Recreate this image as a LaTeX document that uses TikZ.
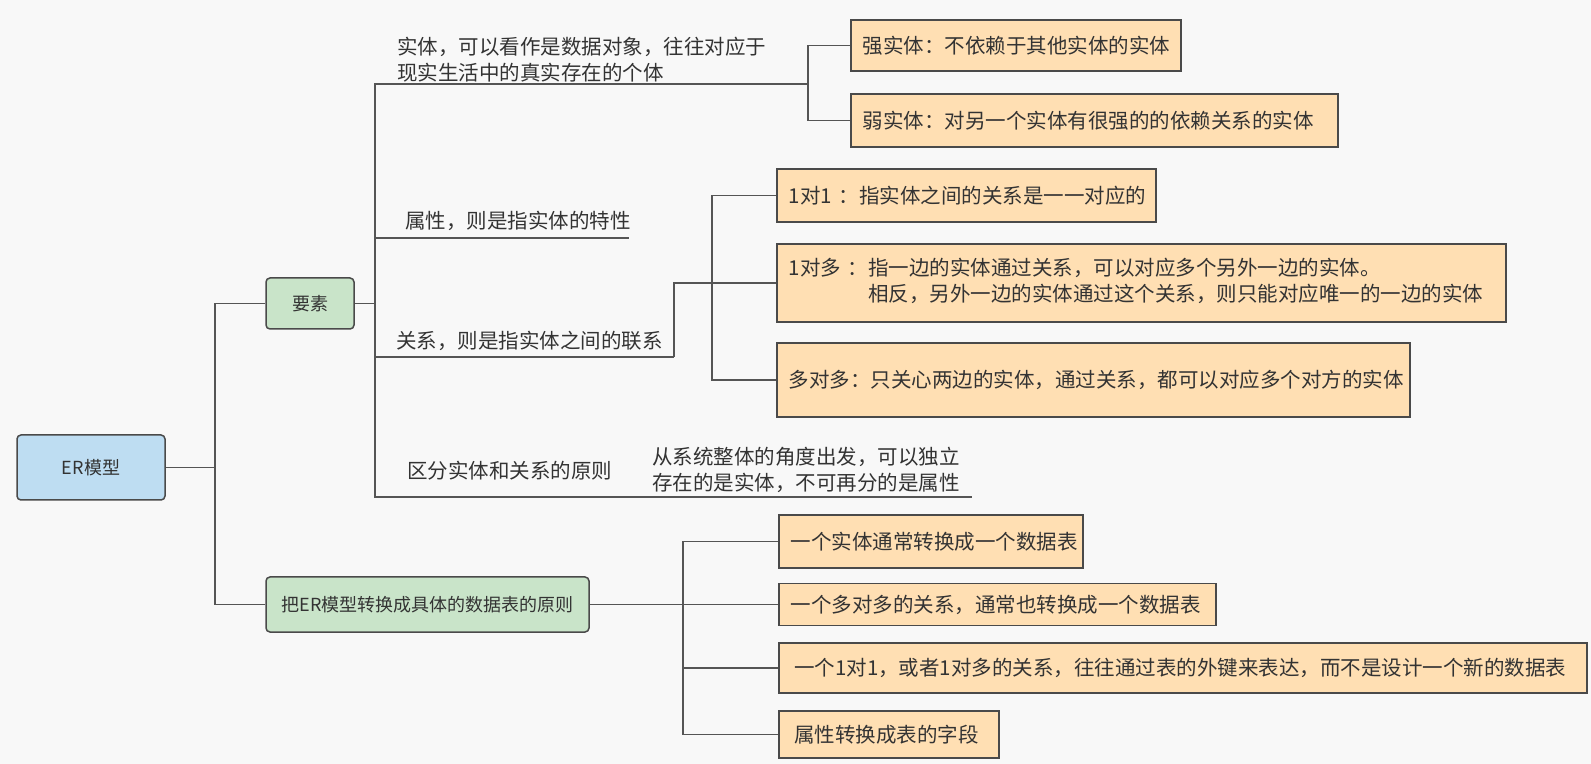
\documentclass[tikz,border=0pt]{standalone}
\usepackage{fontspec}
\setmainfont{Noto Sans CJK SC}
\usetikzlibrary{positioning}
\usepackage{xcolor}
\definecolor{MapBack}{HTML}{F8F8F8}
\definecolor{MapInk}{HTML}{333333}
\definecolor{MapLine}{HTML}{555555}
\definecolor{MapEdge}{HTML}{4A4A4A}
\definecolor{MapRoot}{HTML}{BEDDF2}
\definecolor{MapTopic}{HTML}{C9E4C9}
\definecolor{MapLeaf}{HTML}{FFDFB3}
\newcommand{\leaffont}{\fontsize{10.25pt}{13pt}\selectfont}
\newcommand{\topicfont}{\fontsize{9pt}{11pt}\selectfont}
\tikzset{
    % Box styles
    root/.style={
        rectangle,
        rounded corners=2pt,
        draw=MapEdge,
        fill=MapRoot,
        line width=0.75pt,
        minimum width=74pt,
        minimum height=32.5pt,
        align=center,
        text=MapInk,
        font=\topicfont
    },
    topic/.style={
        rectangle,
        rounded corners=2pt,
        draw=MapEdge,
        fill=MapTopic,
        line width=0.75pt,
        align=center,
        text=MapInk,
        font=\topicfont
    },
    leaf/.style={
        rectangle,
        draw=MapEdge,
        fill=MapLeaf,
        line width=0.75pt,
        anchor=west,
        inner xsep=6pt,
        align=left,
        text=MapInk,
        font=\leaffont
    },
    label/.style={
        anchor=west,
        inner sep=0pt,
        align=left,
        text=MapInk,
        font=\leaffont
    },
    % Connector style - elbows only
    link/.style={
        line width=0.75pt,
        draw=MapLine
    }
}
\begin{document}
\begin{tikzpicture}[x=0.5pt, y=-0.5pt]
    \fill[MapBack] (0,0) rectangle (1591,764);

    \node[root] (er) at (91,467.5) {ER模型};
    \node[topic, minimum width=44pt, minimum height=25.5pt] (yaosu) at (310,303.5) {要素};
    \node[topic, minimum width=161.5pt, minimum height=27.5pt] (rule) at (427.5,604.5) {把ER模型转换成具体的数据表的原则};

    \node[label] (ent) at (397,60) {实体，可以看作是数据对象，往往对应于\\现实生活中的真实存在的个体};
    \node[label] (attr) at (405,221) {属性，则是指实体的特性};
    \node[label] (rel) at (396,341) {关系，则是指实体之间的联系};
    \node[label] (dist) at (407,471) {区分实体和关系的原则};
    \node[label] (distnote) at (652,469.5) {从系统整体的角度出发，可以独立\\存在的是实体，不可再分的是属性};

    \node[leaf, text width=153pt, minimum height=25.5pt] (strong) at (850,45.5) {强实体：不依赖于其他实体的实体};
    \node[leaf, text width=231.5pt, minimum height=26.5pt] (weak) at (850,120.5) {弱实体：对另一个实体有很强的的依赖关系的实体};
    \node[leaf, text width=177.5pt, minimum height=26.5pt] (one2one) at (776,195.5) {1对1~：指实体之间的关系是一一对应的};
    \node[leaf, text width=352.5pt, minimum height=39pt] (one2many) at (776,283) {\begin{tabular}{@{}l@{}l@{}}1对多~：&指一边的实体通过关系，可以对应多个另外一边的实体。\\ &相反，另外一边的实体通过这个关系，则只能对应唯一的一边的实体\end{tabular}};
    \node[leaf, text width=304.5pt, minimum height=37pt] (many2many) at (776,380) {多对多：只关心两边的实体，通过关系，都可以对应多个对方的实体};

    \node[leaf, text width=140pt, minimum height=26.5pt] (tab1) at (778,541.5) {一个实体通常转换成一个数据表};
    \node[leaf, text width=206.5pt, minimum height=21pt] (tab2) at (778,604.5) {一个多对多的关系，通常也转换成一个数据表};
    \node[leaf, text width=392pt, minimum height=25pt] (tab3) at (778,668) {\,一个1对1，或者1对多的关系，往往通过表的外键来表达，而不是设计一个新的数据表};
    \node[leaf, text width=98pt, minimum height=23.5pt] (tab4) at (778,734.5) {\,属性转换成表的字段};

    \coordinate (trunk) at (215,467.5);
    \coordinate (spine) at (375,303.5);
    \coordinate (entend) at (808,84);
    \coordinate (attrend) at (629,238);
    \coordinate (relend) at (674,357);
    \coordinate (relfork) at (712,283);
    \coordinate (distend) at (972,497);
    \coordinate (rulefork) at (683,604.5);

    \draw[link] (er) -- (trunk);
    \draw[link] (trunk) |- (yaosu);
    \draw[link] (trunk) |- (rule);

    \draw[link] (yaosu) -- (spine);
    \draw[link] (spine) |- (entend);
    \draw[link] (spine) |- (attrend);
    \draw[link] (spine) |- (relend);
    \draw[link] (spine) |- (distend);

    \draw[link] (entend) |- (strong);
    \draw[link] (entend) |- (weak);
    \draw[link] (relend) |- (one2many);
    \draw[link] (relfork) |- (one2one);
    \draw[link] (relfork) |- (many2many);

    \draw[link] (rule) -- (rulefork);
    \draw[link] (rulefork) |- (tab1);
    \draw[link] (rulefork) |- (tab2);
    \draw[link] (rulefork) |- (tab3);
    \draw[link] (rulefork) |- (tab4);
\end{tikzpicture}
\end{document}
